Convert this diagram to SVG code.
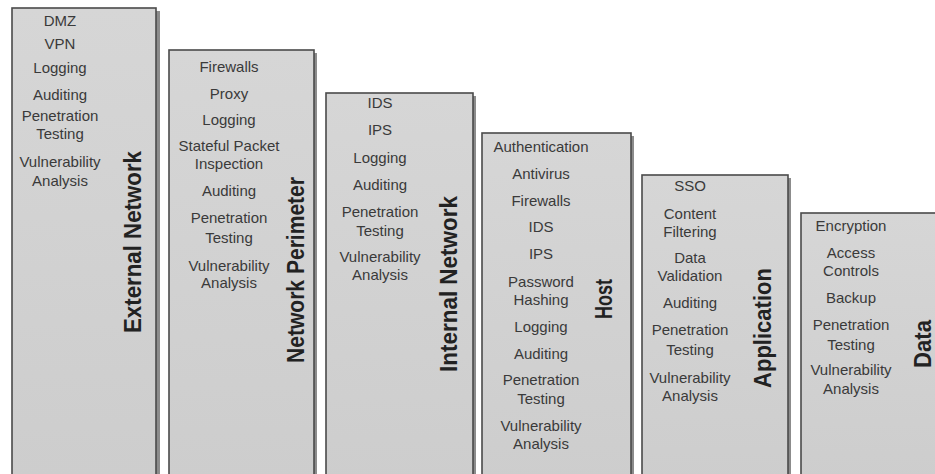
<svg xmlns="http://www.w3.org/2000/svg" width="935" height="474" viewBox="0 0 935 474">
<defs>
<linearGradient id="fill" x1="0" y1="0" x2="0" y2="1">
<stop offset="0" stop-color="#d6d6d6"/>
<stop offset="1" stop-color="#cdcdcd"/>
</linearGradient>
</defs>
<style>
.shadow{fill:#8c8c8c}
.box{fill:url(#fill);stroke:#4a4a4a;stroke-width:1.6}
.item{font-family:"Liberation Sans",Arial,sans-serif;font-size:15px;fill:#3a3a3a;text-anchor:middle}
.title{font-family:"Liberation Sans",Arial,sans-serif;font-weight:bold;font-size:24px;fill:#222;text-anchor:middle}
</style>
<rect width="935" height="474" fill="#ffffff"/>
<g id="connectors"></g>

<g id="external-network">
<rect class="shadow" x="15" y="11" width="145" height="470"/>
<rect class="box" x="12" y="8" width="144" height="470"/>
<text class="item" x="60" y="26">DMZ</text>
<text class="item" x="60" y="49">VPN</text>
<text class="item" x="60" y="73">Logging</text>
<text class="item" x="60" y="100">Auditing</text>
<text class="item" x="60" y="121">Penetration</text>
<text class="item" x="60" y="139">Testing</text>
<text class="item" x="60" y="167">Vulnerability</text>
<text class="item" x="60" y="186">Analysis</text>
<text class="title" transform="translate(141,242) rotate(-90)" textLength="182" lengthAdjust="spacingAndGlyphs">External Network</text>
</g>

<g id="network-perimeter">
<rect class="shadow" x="172" y="53" width="145" height="430"/>
<rect class="box" x="169" y="50" width="145" height="430"/>
<text class="item" x="229" y="72">Firewalls</text>
<text class="item" x="229" y="99">Proxy</text>
<text class="item" x="229" y="125">Logging</text>
<text class="item" x="229" y="151">Stateful Packet</text>
<text class="item" x="229" y="169">Inspection</text>
<text class="item" x="229" y="196">Auditing</text>
<text class="item" x="229" y="223">Penetration</text>
<text class="item" x="229" y="243">Testing</text>
<text class="item" x="229" y="271">Vulnerability</text>
<text class="item" x="229" y="288">Analysis</text>
<text class="title" transform="translate(304,270) rotate(-90)" textLength="186" lengthAdjust="spacingAndGlyphs">Network Perimeter</text>
</g>

<g id="internal-network">
<rect class="shadow" x="329" y="96" width="147" height="390"/>
<rect class="box" x="326" y="93" width="147" height="390"/>
<text class="item" x="380" y="108">IDS</text>
<text class="item" x="380" y="135">IPS</text>
<text class="item" x="380" y="163">Logging</text>
<text class="item" x="380" y="190">Auditing</text>
<text class="item" x="380" y="217">Penetration</text>
<text class="item" x="380" y="236">Testing</text>
<text class="item" x="380" y="262">Vulnerability</text>
<text class="item" x="380" y="280">Analysis</text>
<text class="title" transform="translate(457,284) rotate(-90)" textLength="176" lengthAdjust="spacingAndGlyphs">Internal Network</text>
</g>

<g id="host">
<rect class="shadow" x="485" y="136" width="149" height="350"/>
<rect class="box" x="482" y="133" width="149" height="350"/>
<text class="item" x="541" y="152">Authentication</text>
<text class="item" x="541" y="179">Antivirus</text>
<text class="item" x="541" y="206">Firewalls</text>
<text class="item" x="541" y="232">IDS</text>
<text class="item" x="541" y="259">IPS</text>
<text class="item" x="541" y="287">Password</text>
<text class="item" x="541" y="305">Hashing</text>
<text class="item" x="541" y="332">Logging</text>
<text class="item" x="541" y="359">Auditing</text>
<text class="item" x="541" y="385">Penetration</text>
<text class="item" x="541" y="404">Testing</text>
<text class="item" x="541" y="431">Vulnerability</text>
<text class="item" x="541" y="449">Analysis</text>
<text class="title" transform="translate(612,299) rotate(-90)" textLength="40" lengthAdjust="spacingAndGlyphs">Host</text>
</g>

<g id="application">
<rect class="shadow" x="645" y="178" width="146" height="310"/>
<rect class="box" x="642" y="175" width="146" height="310"/>
<text class="item" x="690" y="191">SSO</text>
<text class="item" x="690" y="219">Content</text>
<text class="item" x="690" y="237">Filtering</text>
<text class="item" x="690" y="263">Data</text>
<text class="item" x="690" y="281">Validation</text>
<text class="item" x="690" y="308">Auditing</text>
<text class="item" x="690" y="335">Penetration</text>
<text class="item" x="690" y="355">Testing</text>
<text class="item" x="690" y="383">Vulnerability</text>
<text class="item" x="690" y="401">Analysis</text>
<text class="title" transform="translate(771,328) rotate(-90)" textLength="120" lengthAdjust="spacingAndGlyphs">Application</text>
</g>

<g id="data">
<rect class="shadow" x="804" y="216" width="140" height="270"/>
<rect class="box" x="801" y="213" width="140" height="270"/>
<text class="item" x="851" y="231">Encryption</text>
<text class="item" x="851" y="258">Access</text>
<text class="item" x="851" y="276">Controls</text>
<text class="item" x="851" y="303">Backup</text>
<text class="item" x="851" y="330">Penetration</text>
<text class="item" x="851" y="350">Testing</text>
<text class="item" x="851" y="375">Vulnerability</text>
<text class="item" x="851" y="394">Analysis</text>
<text class="title" transform="translate(931,344) rotate(-90)" textLength="48" lengthAdjust="spacingAndGlyphs">Data</text>
</g>
</svg>
